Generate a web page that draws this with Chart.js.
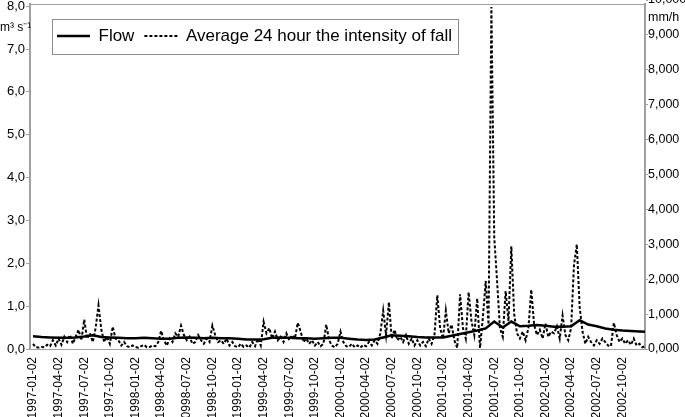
<!DOCTYPE html>
<html>
<head>
<meta charset="utf-8">
<script src="https://cdn.jsdelivr.net/npm/chart.js@4.4.1/dist/chart.umd.min.js"></script>
<style>
  html, body { margin: 0; padding: 0; background: #fff; }
  #wrap { width: 685px; height: 417px; }
</style>
</head>
<body>
<div id="wrap"><canvas id="flowChart"></canvas></div>
<script>
// tick labels on the time axis, one every 3 months (typo kept as in the source)
var tickLabels = ['1997-01-02', '1997-04-02', '1997-07-02', '1997-10-02',
  '1998-01-02', '1998-04-02', '0998-07-02', '1998-10-02',
  '1999-01-02', '1999-04-02', '1999-07-02', '1999-10-02',
  '2000-01-02', '2000-04-02', '2000-07-02', '2000-10-02',
  '2001-01-02', '2001-04-02', '2001-07-02', '2001-10-02',
  '2002-01-02', '2002-04-02', '2002-07-02', '2002-10-02'];

var flowTicks = [0, 1, 2, 3, 4, 5, 6, 7, 8];
var rainTicks = [0, 1, 2, 3, 4, 5, 6, 7, 8, 9, 10];

// flow, m3/s, one value per month from 1997-01
var flow = [0.30, 0.28, 0.27, 0.26, 0.26, 0.27, 0.29, 0.32, 0.28, 0.27, 0.26, 0.25,
  0.25, 0.26, 0.25, 0.24, 0.24, 0.26, 0.27, 0.26, 0.25, 0.26, 0.25, 0.25,
  0.24, 0.22, 0.22, 0.23, 0.26, 0.27, 0.26, 0.25, 0.25, 0.24, 0.25, 0.26,
  0.26, 0.24, 0.22, 0.21, 0.22, 0.27, 0.32, 0.31, 0.30, 0.28, 0.27, 0.27,
  0.27, 0.31, 0.35, 0.39, 0.43, 0.48, 0.64, 0.50, 0.64, 0.53, 0.54, 0.56,
  0.54, 0.52, 0.52, 0.53, 0.67, 0.57, 0.53, 0.48, 0.45, 0.43, 0.42, 0.41,
  0.40];

// average 24 hour intensity of fall, mm/h, three values per month from 1997-01
var rain = [
  0.15, 0.05, 0.04,  0.06, 0.05, 0.12,  0.08, 0.25, 0.10,  0.30, 0.12, 0.35,
  0.20, 0.40, 0.15,  0.35, 0.55, 0.25,  0.84, 0.30, 0.45,  0.20, 0.60, 1.25,
  0.55, 0.20, 0.35,  0.15, 0.64, 0.30,  0.25, 0.10, 0.20,  0.08, 0.05, 0.10,
  0.06, 0.04, 0.08,  0.12, 0.05, 0.06,  0.10, 0.08, 0.20,  0.52, 0.25, 0.10,
  0.30, 0.20, 0.45,  0.35, 0.67, 0.40,  0.25, 0.35, 0.15,  0.20, 0.40, 0.25,
  0.15, 0.30, 0.20,  0.67, 0.40, 0.20,  0.25, 0.15, 0.30,  0.10, 0.20, 0.08,
  0.05, 0.15, 0.06,  0.10, 0.04, 0.20,  0.08, 0.30, 0.10,  0.78, 0.45, 0.60,
  0.30, 0.50, 0.25,  0.35, 0.20, 0.45,  0.25, 0.40, 0.30,  0.75, 0.50, 0.20,
  0.30, 0.15, 0.25,  0.10, 0.20, 0.08,  0.15, 0.70, 0.25,  0.10, 0.05, 0.15,
  0.50, 0.20, 0.08,  0.06, 0.15, 0.05,  0.10, 0.04, 0.12,  0.08, 0.20, 0.10,
  0.25, 0.15, 0.45,  1.10, 0.40, 1.34,  0.30, 0.55, 0.25,  0.35, 0.20, 0.40,
  0.15, 0.30, 0.10,  0.25, 0.10, 0.20,  0.08, 0.30, 0.15,  0.40, 1.54, 0.60,
  0.30, 1.10, 0.45,  0.70, 0.25, 0.03,  1.57, 0.60, 0.30,  1.63, 0.80, 0.40,
  1.45, 0.03, 0.90,  1.95, 0.70, 9.80,  3.20, 1.95, 0.60,  0.35, 1.66, 0.80,
  2.94, 1.00, 0.45,  0.30, 0.50, 0.25,  0.60, 1.70, 0.70,  0.40, 0.55, 0.30,
  0.73, 0.35, 0.50,  0.45, 0.65, 0.30,  0.96, 0.40, 0.25,  0.60, 2.40, 3.00,
  1.20, 0.50, 0.15,  0.35, 0.20, 0.10,  0.25, 0.15, 0.30,  0.20, 0.10, 0.08,
  0.75, 0.40, 0.20,  0.30, 0.15, 0.25,  0.12, 0.30, 0.10,  0.15, 0.05, 0.08];

var flowUnit = 7.5;   // where the unit text sits on the left axis
var rainUnit = 9.5;   // and on the right axis
var axisGrey = '#a0a0a0';

function comma(v, digits) {
  return v.toFixed(digits).replace('.', ',');
}

// legend sits inside the plot, with a thin frame round it
var legendInPlot = {
  id: 'legendInPlot',
  afterLayout: function(chart) {
    var lg = chart.legend, a = chart.chartArea;
    lg.left = a.left + 17;
    lg.top = a.top + 13.5;
    lg.right = a.right;
    lg.bottom = lg.top + 45;
    lg.width = lg.right - lg.left;
    lg.height = lg.bottom - lg.top;
  },
  afterDraw: function(chart) {
    var boxes = chart.legend.legendHitBoxes;
    if (!boxes || !boxes.length) return;
    var first = boxes[0], last = boxes[boxes.length - 1];
    var ctx = chart.ctx;
    ctx.save();
    ctx.strokeStyle = '#8c8c8c';
    ctx.lineWidth = 1;
    ctx.strokeRect(Math.round(first.left - 5) + 0.5, Math.round(first.top - 9) + 0.5,
      Math.round(last.left + last.width + 6 - first.left + 5), Math.round(first.height + 18));
    ctx.restore();
  }
};

// unit of the left axis, written at the top next to the axis
var flowUnitLabel = {
  id: 'flowUnitLabel',
  afterDraw: function(chart) {
    var s = chart.scales.y;
    var ctx = chart.ctx;
    ctx.save();
    ctx.fillStyle = '#000';
    ctx.font = "12px 'Liberation Sans', Arial, sans-serif";
    ctx.textAlign = 'left';
    ctx.textBaseline = 'middle';
    ctx.fillText('m³ s⁻¹', s.left, s.getPixelForValue(flowUnit));
    ctx.restore();
  }
};

Chart.defaults.font.family = "'Liberation Sans', Arial, sans-serif";
Chart.defaults.color = '#000';

var ctx = document.getElementById('flowChart').getContext('2d');
new Chart(ctx, {
  type: 'line',
  data: {
    datasets: [
      {
        label: 'Flow',
        data: flow.map(function(v, i) { return {x: i, y: v}; }),
        yAxisID: 'y',
        borderColor: '#000',
        borderWidth: 2.5,
        pointRadius: 0,
        fill: false
      }, {
        label: 'Average 24 hour the intensity of fall',
        data: rain.map(function(v, i) { return {x: i / 3, y: v}; }),
        yAxisID: 'y2',
        borderColor: '#000',
        borderWidth: 2,
        borderDash: [3, 2],
        pointRadius: 0,
        fill: false
      }
    ]
  },
  options: {
    responsive: true,
    maintainAspectRatio: false,
    animation: false,
    layout: { padding: { top: 3, left: 0, right: 0, bottom: 0 } },
    plugins: {
      tooltip: { enabled: false },
      legend: {
        position: 'top',
        align: 'start',
        maxHeight: 1,
        labels: {
          usePointStyle: true,
          pointStyle: 'line',
          pointStyleWidth: 33,
          padding: 10,
          color: '#000',
          font: { size: 17 },
          generateLabels: function(chart) {
            var items = Chart.defaults.plugins.legend.labels.generateLabels(chart);
            items.forEach(function(it) {
              var ds = chart.data.datasets[it.datasetIndex];
              it.lineDash = ds.borderDash || [];
              it.lineWidth = ds.borderWidth;
            });
            return items;
          }
        }
      }
    },
    scales: {
      x: {
        type: 'linear',
        min: -0.35,
        max: 71.65,
        afterBuildTicks: function(s) {
          s.ticks = tickLabels.map(function(t, i) { return {value: i * 3}; });
        },
        ticks: {
          autoSkip: false,
          minRotation: 90,
          maxRotation: 90,
          padding: 8,
          font: { size: 12 },
          callback: function(v, i) { return tickLabels[i]; }
        },
        grid: { display: false, drawTicks: false },
        border: { color: axisGrey, width: 1 },
        afterFit: function(s) { s.height = 68; s.paddingLeft = 0; s.paddingRight = 0; }
      },
      xTop: {
        type: 'linear',
        axis: 'x',
        position: 'top',
        min: 0,
        max: 1,
        ticks: { display: false },
        grid: { display: false, drawTicks: false },
        border: { color: axisGrey, width: 1 },
        afterFit: function(s) { s.height = 0; s.paddingLeft = 0; s.paddingRight = 0; }
      },
      y: {
        position: 'left',
        min: 0,
        max: 8.05,
        afterBuildTicks: function(s) {
          s.ticks = flowTicks.map(function(v) { return {value: v}; });
        },
        ticks: {
          padding: 1,
          font: { size: 13 },
          callback: function(v) { return comma(v, 1); }
        },
        grid: { drawOnChartArea: false, tickLength: 4, color: axisGrey },
        border: { color: axisGrey, width: 2 },
        afterFit: function(s) { s.width = 30; s.paddingTop = 0; s.paddingBottom = 0; }
      },
      y2: {
        position: 'right',
        min: 0,
        max: 9.886,
        afterBuildTicks: function(s) {
          s.ticks = rainTicks.concat([rainUnit]).sort(function(a, b) { return a - b; })
            .map(function(v) { return {value: v}; });
        },
        ticks: {
          padding: 0,
          font: { size: 12.5 },
          callback: function(v) { return v === rainUnit ? 'mm/h' : comma(v, 3); }
        },
        grid: {
          drawOnChartArea: false,
          tickLength: 3,
          color: axisGrey,
          tickColor: function(c) { return c.tick && c.tick.value === rainUnit ? 'rgba(0,0,0,0)' : axisGrey; }
        },
        border: { color: axisGrey, width: 2 },
        afterFit: function(s) { s.width = 40; s.paddingTop = 0; s.paddingBottom = 0; }
      }
    }
  },
  plugins: [legendInPlot, flowUnitLabel]
});
</script>
</body>
</html>
